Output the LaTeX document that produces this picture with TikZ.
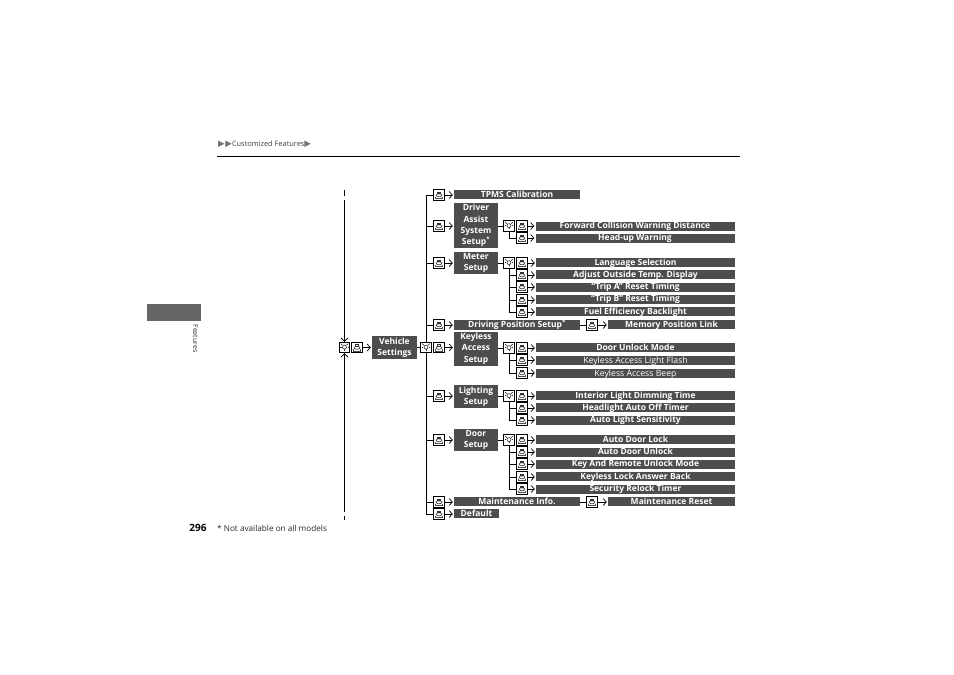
\documentclass[tikz,border=0pt]{standalone}
\usepackage{fontspec}
\usetikzlibrary{arrows.meta}
\setmainfont{Open Sans}
\newfontfamily\symfont{DejaVu Sans}
\definecolor{boxgray}{HTML}{4D4D4D}
\definecolor{tabgray}{HTML}{666666}
\tikzset{
  selbox/.style={rectangle,draw,line width=1pt,fill=white,minimum size=10.5pt,inner sep=0pt,
    path picture={
      \draw[line width=.6pt,black!80] (path picture bounding box.center)+(0,.3) ellipse (2.9pt and 1.5pt);
      \draw[line width=.7pt,black!80] (path picture bounding box.center)+(-1.2,-2.8) -- +(1.2,-2.8) -- +(1.2,-1.4) -- +(-1.2,-1.4) -- cycle;
      \draw[line width=.6pt,black!70] (path picture bounding box.center)+(-3.6,1.6) -- +(-3.6,3.4) -- +(3.6,3.4) -- +(3.6,1.6);
    }},
  dialbox/.style={rectangle,draw,line width=1pt,fill=white,minimum size=10.5pt,inner sep=0pt,
    path picture={
      \draw[line width=.6pt,black!80] (path picture bounding box.center)+(0,-.4) circle (2pt);
      \draw[line width=.8pt,black!80] (path picture bounding box.center)+(0,1.6) -- +(0,3.4);
      \draw[line width=.7pt,black!80] (path picture bounding box.center)+(-2.2,-2.4) -- +(-3.8,-3.8);
      \draw[line width=.7pt,black!80] (path picture bounding box.center)+(2.2,-2.4) -- +(3.8,-3.8);
      \draw[line width=.6pt,black!80] (path picture bounding box.center)+(-3,-.4) -- +(-4.2,-.4);
      \draw[line width=.6pt,black!80] (path picture bounding box.center)+(3,-.4) -- +(4.2,-.4);
    }},
  menubox/.style={rectangle,fill=boxgray,text=white,align=center,inner sep=0pt,
    font=\fontsize{8.5}{11.3}\selectfont\bfseries},
  subitem/.style={menubox,minimum width=199pt,minimum height=9pt,text height=6pt,text depth=1pt},
  longitem/.style={menubox,minimum width=126pt,minimum height=9.5pt,text height=6pt,text depth=1pt},
  enditem/.style={menubox,minimum width=127pt,minimum height=9pt,text height=6pt,text depth=1pt},
  link/.style={line width=1pt,black},
  go/.style={line width=.7pt,black,shorten >=1pt,-{Straight Barb[length=3.2pt,width=7pt]}},
  rail/.style={line width=.8pt,black},
  railgo/.style={rail,-{Straight Barb[length=3.2pt,width=7pt]}},
}
\begin{document}
\begin{tikzpicture}[x=1pt,y=-1pt]
\useasboundingbox (0,0) rectangle (954,675);

% page furniture
\node [inner sep=0pt,anchor=west,text=black!75,font=\fontsize{7.4}{8}\selectfont] (crumb) at (218,144) {{\symfont\color{black!55}\fontsize{8.6}{8}\selectfont ▶\kern.6pt▶}Customized Features{\symfont\color{black!55}\fontsize{8.6}{8}\selectfont ▶}};
\coordinate (rulea) at (217,156);
\coordinate (ruleb) at (740,156);
\draw [line width=1pt] (rulea) -- (ruleb);
\node [rectangle,fill=tabgray,minimum width=54pt,minimum height=17pt,inner sep=0pt] (tab) at (174,312.5) {};
\node [inner sep=0pt,rotate=-90,text=black!80,font=\fontsize{7}{8}\selectfont] (side) at (195.5,338.5) {Features};
\node [inner sep=0pt,font=\fontsize{10}{11}\selectfont] (page) at (198,528) {\textbf{296}};
\node [inner sep=0pt,anchor=west,text=black!85,font=\fontsize{8.2}{10}\selectfont] (note) at (217,528) {* Not available on all models};

% left column
\node [dialbox] (d0) at (344.5,347.5) {};
\node [selbox] (s0) at (357,347.5) {};
\node [menubox,minimum width=45pt,minimum height=23pt] (vehicle) at (394.5,347.5) {Vehicle\\Settings};
\coordinate (t1) at (344.5,190);
\coordinate (t2) at (344.5,196);
\coordinate (t3) at (344.5,200);
\coordinate (b1) at (344.5,512);
\coordinate (b2) at (344.5,516);
\coordinate (b3) at (344.5,520);
\draw [rail] (t1) -- (t2);
\draw [railgo] (t3) -- (d0.north);
\draw [railgo] (b1) -- (d0.south);
\draw [rail] (b2) -- (b3);
\draw [go] (s0) -- (vehicle);

% second column
\node [dialbox] (d1) at (426,347.5) {};
\node [selbox] (s1) at (439,347.5) {};
\node [selbox] (s2) at (439,195) {};
\node [selbox] (s3) at (439,226) {};
\node [selbox] (s4) at (439,263) {};
\node [selbox] (s5) at (439,325) {};
\node [selbox] (s6) at (439,396) {};
\node [selbox] (s7) at (439,440) {};
\node [selbox] (s8) at (439,502) {};
\node [selbox] (s9) at (439,514) {};
\node [longitem] (tpms) at (517,194.5) {TPMS Calibration};
\node [menubox,minimum width=44pt,minimum height=45pt] (driver) at (476,225.5) {Driver\\Assist\\System\\Setup\textsuperscript{*}};
\node [menubox,minimum width=44pt,minimum height=22pt] (meter) at (476,263) {Meter\\Setup};
\node [longitem] (driving) at (517,325) {Driving Position Setup\textsuperscript{*}};
\node [menubox,minimum width=44pt,minimum height=34pt] (keyless) at (476,348.5) {Keyless\\Access\\Setup};
\node [menubox,minimum width=44pt,minimum height=23pt] (lighting) at (476,396.5) {Lighting\\Setup};
\node [menubox,minimum width=44pt,minimum height=22pt] (door) at (476,440) {Door\\Setup};
\node [longitem] (maint) at (517,501.5) {Maintenance Info.};
\node [menubox,minimum width=45pt,minimum height=9.5pt,text height=6pt,text depth=1pt] (default) at (476.5,513.5) {Default};
\draw [link] (vehicle.east) -- (d1.west);
\draw [link] (d1.north) |- (s2.west);
\draw [link] (d1.north) |- (s3.west);
\draw [link] (d1.north) |- (s4.west);
\draw [link] (d1.north) |- (s5.west);
\draw [link] (d1.south) |- (s6.west);
\draw [link] (d1.south) |- (s7.west);
\draw [link] (d1.south) |- (s8.west);
\draw [link] (d1.south) |- (s9.west);
\draw [go] (s1) -- (s1 -| keyless.west);
\draw [go] (s2) -- (s2 -| tpms.west);
\draw [go] (s3) -- (s3 -| driver.west);
\draw [go] (s4) -- (s4 -| meter.west);
\draw [go] (s5) -- (s5 -| driving.west);
\draw [go] (s6) -- (s6 -| lighting.west);
\draw [go] (s7) -- (s7 -| door.west);
\draw [go] (s8) -- (s8 -| maint.west);
\draw [go] (s9) -- (s9 -| default.west);

% end items of the long rows
\node [selbox] (s10) at (592,325) {};
\node [enditem] (memory) at (671.5,324.5) {Memory Position Link};
\node [selbox] (s11) at (592,502) {};
\node [enditem] (reset) at (671.5,501.5) {Maintenance Reset};
\draw [link] (driving.east) -- (s10.west);
\draw [go] (s10) -- (s10 -| memory.west);
\draw [link] (s8 -| maint.east) -- (s11.west);
\draw [go] (s11) -- (s11 -| reset.west);

% driver assist
\node [dialbox] (d2) at (509,226) {};
\node [selbox] (s20) at (522,226) {};
\node [selbox] (s21) at (522,238) {};
\node [subitem] (i20) at (635,226) {Forward Collision Warning Distance};
\node [subitem] (i21) at (635,238) {Head-up Warning};
\draw [link] (d2 -| driver.east) -- (d2.west);
\draw [link] (d2.south) |- (s21.west);
\draw [go] (s20) -- (s20 -| i20.west);
\draw [go] (s21) -- (s21 -| i21.west);

% meter
\node [dialbox] (d3) at (509,263) {};
\node [selbox] (s30) at (522,263) {};
\node [selbox] (s31) at (522,275) {};
\node [selbox] (s32) at (522,287) {};
\node [selbox] (s33) at (522,300) {};
\node [selbox] (s34) at (522,312) {};
\node [subitem] (i30) at (635.5,262.5) {Language Selection};
\node [subitem] (i31) at (635.5,274.5) {Adjust Outside Temp. Display};
\node [subitem] (i32) at (635.5,287) {“Trip A” Reset Timing};
\node [subitem] (i33) at (635.5,299) {“Trip B” Reset Timing};
\node [subitem] (i34) at (635.5,311.5) {Fuel Efficiency Backlight};
\draw [link] (d3 -| meter.east) -- (d3.west);
\draw [link] (d3.south) |- (s31.west);
\draw [link] (d3.south) |- (s32.west);
\draw [link] (d3.south) |- (s33.west);
\draw [link] (d3.south) |- (s34.west);
\draw [go] (s30) -- (s30 -| i30.west);
\draw [go] (s31) -- (s31 -| i31.west);
\draw [go] (s32) -- (s32 -| i32.west);
\draw [go] (s33) -- (s33 -| i33.west);
\draw [go] (s34) -- (s34 -| i34.west);

% keyless
\node [dialbox] (d4) at (509,348) {};
\node [selbox] (s40) at (522,348) {};
\node [selbox] (s41) at (522,360) {};
\node [selbox] (s42) at (522,373) {};
\node [subitem] (i40) at (635.5,347.5) {Door Unlock Mode};
\node [subitem,font=\fontsize{8.7}{11}\selectfont] (i41) at (635.5,360.5) {Keyless Access Light Flash};
\node [subitem,font=\fontsize{8.7}{11}\selectfont] (i42) at (635.5,373.5) {Keyless Access Beep};
\draw [link] (d4 -| keyless.east) -- (d4.west);
\draw [link] (d4.south) |- (s41.west);
\draw [link] (d4.south) |- (s42.west);
\draw [go] (s40) -- (s40 -| i40.west);
\draw [go] (s41) -- (s41 -| i41.west);
\draw [go] (s42) -- (s42 -| i42.west);

% lighting
\node [dialbox] (d5) at (509,396) {};
\node [selbox] (s50) at (522,396) {};
\node [selbox] (s51) at (522,408) {};
\node [selbox] (s52) at (522,420) {};
\node [subitem] (i50) at (635.5,395.5) {Interior Light Dimming Time};
\node [subitem] (i51) at (635.5,407.5) {Headlight Auto Off Timer};
\node [subitem] (i52) at (635.5,420) {Auto Light Sensitivity};
\draw [link] (d5 -| lighting.east) -- (d5.west);
\draw [link] (d5.south) |- (s51.west);
\draw [link] (d5.south) |- (s52.west);
\draw [go] (s50) -- (s50 -| i50.west);
\draw [go] (s51) -- (s51 -| i51.west);
\draw [go] (s52) -- (s52 -| i52.west);

% door
\node [dialbox] (d6) at (509,440) {};
\node [selbox] (s60) at (522,440) {};
\node [selbox] (s61) at (522,452) {};
\node [selbox] (s62) at (522,464) {};
\node [selbox] (s63) at (522,477) {};
\node [selbox] (s64) at (522,489) {};
\node [subitem] (i60) at (635.5,439.5) {Auto Door Lock};
\node [subitem] (i61) at (635.5,452) {Auto Door Unlock};
\node [subitem] (i62) at (635.5,464) {Key And Remote Unlock Mode};
\node [subitem] (i63) at (635.5,476.5) {Keyless Lock Answer Back};
\node [subitem] (i64) at (635.5,489) {Security Relock Timer};
\draw [link] (d6 -| door.east) -- (d6.west);
\draw [link] (d6.south) |- (s61.west);
\draw [link] (d6.south) |- (s62.west);
\draw [link] (d6.south) |- (s63.west);
\draw [link] (d6.south) |- (s64.west);
\draw [go] (s60) -- (s60 -| i60.west);
\draw [go] (s61) -- (s61 -| i61.west);
\draw [go] (s62) -- (s62 -| i62.west);
\draw [go] (s63) -- (s63 -| i63.west);
\draw [go] (s64) -- (s64 -| i64.west);
\end{tikzpicture}
\end{document}
